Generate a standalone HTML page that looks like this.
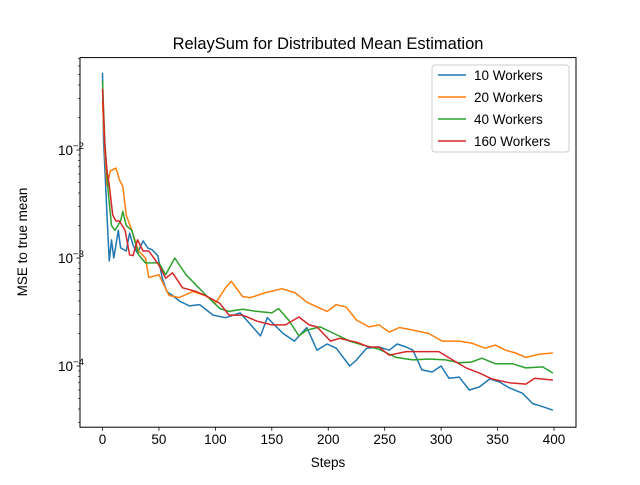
<!DOCTYPE html>
<html><head><meta charset="utf-8"><style>
body{margin:0;background:#fff}
svg{font-family:"Liberation Sans","DejaVu Sans",sans-serif}
</style></head><body>
<svg id="chart" width="640" height="480" viewBox="0 0 640 480">
<rect x="0" y="0" width="640" height="480" fill="#fff"/>
<text x="328" y="49" text-anchor="middle" font-size="16.5" fill="#000">RelaySum for Distributed Mean Estimation</text>
<g id="grid"></g>
<g id="series"></g>
<rect x="80" y="57.6" width="496" height="369.6" fill="none" stroke="#000" stroke-width="1"/>
<g id="axes"></g>
<text x="328" y="467" text-anchor="middle" font-size="13.5">Steps</text>
<text transform="translate(27,242) rotate(-90)" text-anchor="middle" font-size="13.5">MSE to true mean</text>
<g id="legend"></g>
</svg>
<script>
const seriesNames = ["10 Workers","20 Workers","40 Workers","160 Workers"];
const seriesColors = ["#1f77b4","#ff7f0e","#2ca02c","#d62728"];
const xTicks = [0,50,100,150,200,250,300,350,400];
const yTicks = [-2,-3,-4];
const stepsBlue = [0,1,3,5,6,8,10,14,16,21,24,27,31,36,40,44,49,53,57,62,68,77,86,98,109,122,140,146,160,170,181,190,199,207,219,225,234,245,254,261,269,275,283,292,300,307,316,325,334,343,352,360,372,381,390,399];
const valsBlue = [5.2e-2,1.2e-2,4.2e-3,1.5e-3,9.4e-4,1.47e-3,1.0e-3,1.8e-3,1.24e-3,1.16e-3,1.7e-3,1.32e-3,1.11e-3,1.44e-3,1.24e-3,1.19e-3,1.05e-3,6.5e-4,4.9e-4,4.5e-4,4.0e-4,3.6e-4,3.7e-4,2.96e-4,2.8e-4,3.1e-4,1.9e-4,2.8e-4,2.0e-4,1.7e-4,2.27e-4,1.4e-4,1.6e-4,1.46e-4,1.0e-4,1.14e-4,1.46e-4,1.5e-4,1.4e-4,1.6e-4,1.5e-4,1.4e-4,9.2e-5,8.8e-5,1.0e-4,7.7e-5,7.9e-5,6.0e-5,6.4e-5,7.6e-5,7.1e-5,6.3e-5,5.6e-5,4.5e-5,4.2e-5,3.9e-5];
const stepsOrange = [0,2,4,7,12,15,18,21,26,32,38,41,50,59,68,80,92,100,109,114,124,131,144,159,171,181,199,207,216,225,236,245,254,263,275,289,301,316,327,339,348,357,366,375,387,399];
const valsOrange = [2.8e-2,9.8e-3,4.7e-3,6.4e-3,6.8e-3,5.3e-3,4.6e-3,2.5e-3,1.8e-3,1.16e-3,1.0e-3,6.6e-4,7.0e-4,4.5e-4,4.3e-4,4.9e-4,4.45e-4,3.8e-4,5.3e-4,6.1e-4,4.4e-4,4.3e-4,4.75e-4,5.2e-4,4.75e-4,3.9e-4,3.2e-4,3.7e-4,3.5e-4,2.66e-4,2.3e-4,2.4e-4,2.06e-4,2.27e-4,2.15e-4,2.0e-4,1.7e-4,1.7e-4,1.63e-4,1.46e-4,1.56e-4,1.4e-4,1.32e-4,1.2e-4,1.29e-4,1.32e-4];
const stepsGreen = [0,2,5,8,11,16,18,21,26,32,38,50,56,64,74,83,92,104,112,124,137,150,156,165,174,181,193,205,219,231,245,260,275,289,304,316,327,336,348,363,375,390,399];
const valsGreen = [4.4e-2,1.2e-2,4.2e-3,2.0e-3,1.8e-3,2.2e-3,2.7e-3,2.0e-3,1.8e-3,1.07e-3,9.0e-4,9.0e-4,7.0e-4,1.0e-3,7.0e-4,5.6e-4,4.5e-4,3.4e-4,3.2e-4,3.35e-4,3.2e-4,3.1e-4,3.4e-4,2.66e-4,1.9e-4,2.15e-4,2.3e-4,2.0e-4,1.7e-4,1.56e-4,1.43e-4,1.2e-4,1.14e-4,1.16e-4,1.14e-4,1.07e-4,1.09e-4,1.18e-4,1.05e-4,1.05e-4,9.6e-5,9.8e-5,8.6e-5];
const stepsRed = [0,2,4,6,9,12,15,20,24,27,31,36,41,50,56,62,71,83,92,104,112,124,137,150,162,174,183,190,202,210,225,236,245,254,269,283,298,310,322,334,345,360,375,383,399];
const valsRed = [3.7e-2,1.1e-2,6.4e-3,4.7e-3,2.5e-3,2.2e-3,2.2e-3,1.8e-3,1.07e-3,1.05e-3,1.47e-3,1.16e-3,1.16e-3,8.6e-4,6.5e-4,7.3e-4,5.3e-4,4.9e-4,4.45e-4,3.8e-4,2.96e-4,2.96e-4,2.6e-4,2.4e-4,2.4e-4,2.84e-4,2.4e-4,2.3e-4,1.7e-4,1.8e-4,1.66e-4,1.5e-4,1.5e-4,1.26e-4,1.36e-4,1.36e-4,1.36e-4,1.14e-4,9.6e-5,8.6e-5,7.6e-5,7.0e-5,6.8e-5,7.7e-5,7.4e-5];

const NS = "http://www.w3.org/2000/svg";
const X = s => 102.5 + (s/400)*451.5;
const Y = v => 150 - (Math.log10(v) + 2) * 108;
function mk(tag, attrs, parent){const e=document.createElementNS(NS,tag);for(const k in attrs)e.setAttribute(k,attrs[k]);parent.appendChild(e);return e;}
const axes = document.getElementById('axes');
xTicks.forEach(t=>{
  const l=mk('line',{x1:X(t),x2:X(t),y1:427.2,y2:430.7,stroke:'#000','stroke-width':0.8},axes);
  
  
  const tx=mk('text',{x:X(t),y:444,'text-anchor':'middle','font-size':13.5},axes);
  tx.textContent=t;
  
  
});
yTicks.forEach(p=>{
  const y=Y(Math.pow(10,p));
  const l=mk('line',{x1:76.5,x2:80,y1:y,y2:y,stroke:'#000','stroke-width':0.8},axes);
  
  
  const tx=mk('text',{x:58,y:y+5,'font-size':13.5},axes);
  tx.innerHTML='10<tspan dy="-6" font-size="9.5">\u2212'+(-p)+'</tspan>';
  
  
});
for(let d=-5; d<=-2; d++){for(let m=2;m<=9;m++){const v=m*Math.pow(10,d);const y=Y(v);if(y<57.6||y>427.2)continue;
  const l=mk('line',{x1:78,x2:80,y1:y,y2:y,stroke:'#000','stroke-width':0.6},axes);
  
  }}
const ser=document.getElementById('series');
const allSteps=[stepsBlue,stepsOrange,stepsGreen,stepsRed];
const allVals=[valsBlue,valsOrange,valsGreen,valsRed];
allSteps.forEach((st,i)=>{
  const pts=st.map((s,j)=>X(s).toFixed(1)+','+Y(allVals[i][j]).toFixed(1)).join(' ');
  const p=mk('polyline',{points:pts,fill:'none',stroke:seriesColors[i],'stroke-width':1.5,'stroke-linejoin':'round'},ser);
  
  
});
const lg=document.getElementById('legend');
const box=mk('rect',{x:432,y:65,width:137,height:87,rx:3,fill:'#fff','fill-opacity':0.8,stroke:'#ccc'},lg);


seriesNames.forEach((n,i)=>{
  const y=75+i*22;
  const l=mk('line',{x1:438,x2:466,y1:y,y2:y,stroke:seriesColors[i],'stroke-width':1.5},lg);
  
  
  const t=mk('text',{x:474,y:y+5,'font-size':13.5},lg);
  t.textContent=n;
  
  
});
</script>
</body></html>
